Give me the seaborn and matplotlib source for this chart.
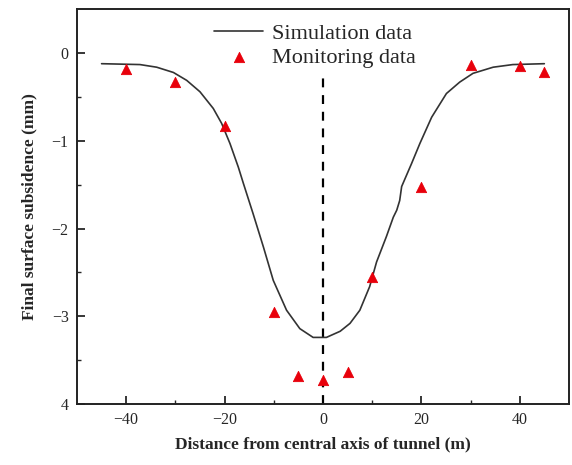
import numpy as np
import pandas as pd
import matplotlib
matplotlib.use("Agg")
import matplotlib.pyplot as plt
import seaborn as sns

# Simulated settlement trough across the tunnel section
sim_x = [-45, -37.2, -33.8, -30.4, -27.7, -25.0, -22.3, -20.6, -18.9, -17.2,
         -16.2, -14.2, -12.1, -10.1, -7.4, -4.7, -2.0, 0.7, 3.5, 5.5, 7.5,
         9.5, 10.9, 12.9, 14.3, 15.0, 15.6, 16.0, 18.0, 19.7, 22.1, 25.1,
         27.8, 30.5, 34.6, 38.6, 45]
sim_y = [-0.12, -0.13, -0.16, -0.22, -0.31, -0.44, -0.63, -0.80, -1.03, -1.30,
         -1.48, -1.83, -2.21, -2.59, -2.93, -3.14, -3.24, -3.24, -3.17, -3.08,
         -2.93, -2.66, -2.38, -2.09, -1.87, -1.79, -1.68, -1.52, -1.26, -1.03,
         -0.73, -0.46, -0.33, -0.23, -0.16, -0.13, -0.12]

# Field monitoring points
mon_x = [-40, -30, -20, -10, -5, 0, 5, 10, 20, 30, 40, 45]
mon_y = [-0.18, -0.33, -0.83, -2.95, -3.68, -3.73, -3.63, -2.55, -1.52, -0.14,
         -0.15, -0.21]

x_ticks = [-40, -20, 0, 20, 40]
x_tick_labels = ["\u221240", "\u221220", "0", "20", "40"]
y_ticks = [0, -1, -2, -3, -4]
y_tick_labels = ["0", "\u22121", "\u22122", "\u22123", "4"]

sim_df = pd.DataFrame({"x": sim_x, "y": sim_y})
mon_df = pd.DataFrame({"x": mon_x, "y": mon_y})

sns.set_style("ticks")
plt.rcParams["font.family"] = ["Liberation Serif", "DejaVu Serif"]

fig = plt.figure(figsize=(5.72, 4.65), dpi=100)
ax = fig.add_axes([0.1346, 0.131, 0.860, 0.849])

# Tunnel centre line, stopping just under the legend
ax.axvline(0, ymin=0, ymax=0.84, color="black", linestyle=(0, (4, 3.5)),
           linewidth=1.6, zorder=1)
sns.lineplot(data=sim_df, x="x", y="y", ax=ax, color="#333333", linewidth=1.2,
             label="Simulation data", sort=False, zorder=2)
sns.scatterplot(data=mon_df, x="x", y="y", ax=ax, marker="^", color="#e8000b",
                edgecolor="#e8000b", s=55, label="Monitoring data", zorder=3)

ax.set_xlim(-50, 50)
ax.set_ylim(-4, 0.5)
ax.set_xticks(x_ticks)
ax.set_xticklabels(x_tick_labels)
ax.set_yticks(y_ticks)
ax.set_yticklabels(y_tick_labels)
ax.set_xticks([-30, -10, 10, 30], minor=True)
ax.set_yticks([-0.5, -1.5, -2.5, -3.5], minor=True)
ax.tick_params(which="major", direction="in", length=6, width=1.3,
               labelsize=11.5, pad=6)
ax.tick_params(which="minor", direction="in", length=3, width=1.0)

for sp in ax.spines.values():
    sp.set_linewidth(1.4)
    sp.set_color("#222222")

ax.set_xlabel("Distance from central axis of tunnel (m)", fontsize=12.5,
              fontweight="bold", labelpad=6)
ax.set_ylabel("Final surface subsidence (mm)", fontsize=12.5,
              fontweight="bold", labelpad=10)

leg = ax.legend(loc="upper left", bbox_to_anchor=(0.27, 0.975), frameon=False,
                fontsize=16, handlelength=2.2, handletextpad=0.4,
                labelspacing=0.15, borderpad=0.2, borderaxespad=0)

fig.savefig("out.png", dpi=100)
